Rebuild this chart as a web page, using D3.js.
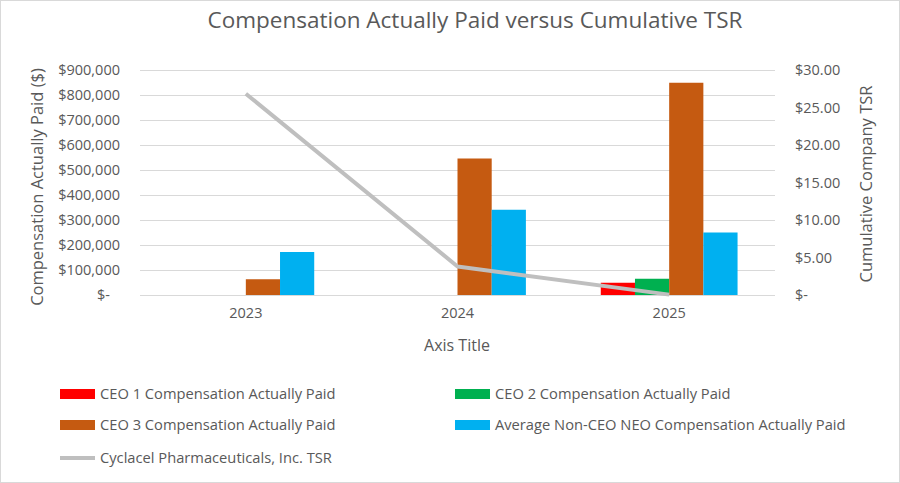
<!DOCTYPE html>
<html><head><meta charset="utf-8">
<script src="https://cdn.jsdelivr.net/npm/d3@7"></script>
<style>body{margin:0;background:#fff}svg{display:block}text{font-family:"Open Sans","Noto Sans",sans-serif;fill:#595959}</style>
</head><body><svg id="c" width="900" height="483"></svg>
<script>
const years = ["2023","2024","2025"];
const seriesNames = ["CEO 1 Compensation Actually Paid","CEO 2 Compensation Actually Paid","CEO 3 Compensation Actually Paid","Average Non-CEO NEO Compensation Actually Paid"];
const ceo1 = [null, null, 49000];
const ceo2 = [null, null, 65000];
const ceo3 = [63000, 546000, 849000];
const neo = [172000, 341000, 250000];
const tsrName = "Cyclacel Pharmaceuticals, Inc. TSR";
const tsr = [26.84, 3.81, 0.05];
const leftTicks = [0,100000,200000,300000,400000,500000,600000,700000,800000,900000];
const rightTicks = [0,5,10,15,20,25,30];
const colors = ["#FF0000","#00B050","#C55A11","#00B0F0"];
const lineColor = "#BFBFBF";

const svg = d3.select("#c");
svg.append("rect").attr("x",0.5).attr("y",0.5).attr("width",899).attr("height",482).attr("fill","#fff").attr("stroke","#d9d9d9");

const L=140, R=775, T=70, B=295;
const x = d3.scaleBand().domain(years).range([L,R]).padding(0);
const gapRatio = 2.19;
const barW = x.bandwidth()/(4+gapRatio);
const xs = d3.scaleBand().domain(d3.range(4)).range([0,barW*4]);
const y = d3.scaleLinear().domain([0,900000]).range([B,T]);
const y2 = d3.scaleLinear().domain([0,30]).range([B,T]);

// gridlines
svg.append("g").selectAll("line").data(leftTicks).join("line")
  .attr("x1",L).attr("x2",R).attr("y1",d=>Math.round(y(d))+0.5).attr("y2",d=>Math.round(y(d))+0.5)
  .attr("stroke","#d9d9d9").attr("stroke-width",1);

const fmtL = d=> d===0 ? "$-" : "$" + d3.format(",")(d);
const fmtR = d=> d===0 ? "$-" : "$" + d3.format(".2f")(d);

// left axis
const ga = svg.append("g").attr("transform",`translate(${L},0)`)
  .call(d3.axisLeft(y).tickValues(leftTicks).tickFormat(fmtL).tickSize(0).tickPadding(20));
ga.select(".domain").remove();
ga.selectAll("text").attr("font-size",14.5).style("fill","#595959")
  .attr("dx",d=>d===0?-10:0);
// right axis
const gr = svg.append("g").attr("transform",`translate(${R},0)`)
  .call(d3.axisRight(y2).tickValues(rightTicks).tickFormat(fmtR).tickSize(0).tickPadding(20));
gr.select(".domain").remove();
gr.selectAll("text").attr("font-size",14.5).style("fill","#595959");
// x axis
const gx = svg.append("g").attr("transform",`translate(0,${B})`)
  .call(d3.axisBottom(x).tickSize(0).tickPadding(13));
gx.select(".domain").remove();
gx.selectAll("text").attr("font-size",14.5).style("fill","#595959");

// bars
const allSeries = [ceo1,ceo2,ceo3,neo];
const barData = [];
years.forEach((yr,i)=>allSeries.forEach((s,j)=>{ if(s[i]!=null) barData.push({yr,j,v:s[i]}); }));
svg.append("g").selectAll("rect").data(barData).join("rect")
  .attr("x",d=>x(d.yr)+x.bandwidth()/2-barW*2+xs(d.j))
  .attr("width",xs.bandwidth())
  .attr("y",d=>y(d.v)).attr("height",d=>B-y(d.v))
  .attr("fill",d=>colors[d.j]);

// line
const line = d3.line().x((d,i)=>x(years[i])+x.bandwidth()/2).y(d=>y2(d));
svg.append("path").datum(tsr).attr("d",line).attr("fill","none")
  .attr("stroke",lineColor).attr("stroke-width",4).attr("stroke-linejoin","round");

// titles
svg.append("text").attr("x",475).attr("y",28).attr("text-anchor","middle").attr("font-size",22.5).text("Compensation Actually Paid versus Cumulative TSR");
svg.append("text").attr("transform","translate(43,187) rotate(-90)").attr("text-anchor","middle").attr("font-size",16.5).text("Compensation Actually Paid ($)");
svg.append("text").attr("transform","translate(872,184) rotate(-90)").attr("text-anchor","middle").attr("font-size",16.5).text("Cumulative Company TSR");
svg.append("text").attr("x",457).attr("y",351).attr("text-anchor","middle").attr("font-size",16).text("Axis Title");

// legend
const leg = [
  {n:seriesNames[0],c:colors[0],x:60,y:394,t:"bar"},
  {n:seriesNames[1],c:colors[1],x:455,y:394,t:"bar"},
  {n:seriesNames[2],c:colors[2],x:60,y:425,t:"bar"},
  {n:seriesNames[3],c:colors[3],x:455,y:425,t:"bar"},
  {n:tsrName,c:lineColor,x:60,y:458,t:"line"}
];
const lg = svg.append("g").selectAll("g").data(leg).join("g").attr("transform",d=>`translate(${d.x},${d.y})`);
lg.filter(d=>d.t==="bar").append("rect").attr("x",0).attr("y",-5).attr("width",35).attr("height",10).attr("fill",d=>d.c);
lg.filter(d=>d.t==="line").append("line").attr("x1",0).attr("x2",35).attr("y1",0).attr("y2",0).attr("stroke",d=>d.c).attr("stroke-width",4);
lg.append("text").attr("x",40).attr("y",5).attr("font-size",14.7).text(d=>d.n);
</script></body></html>
